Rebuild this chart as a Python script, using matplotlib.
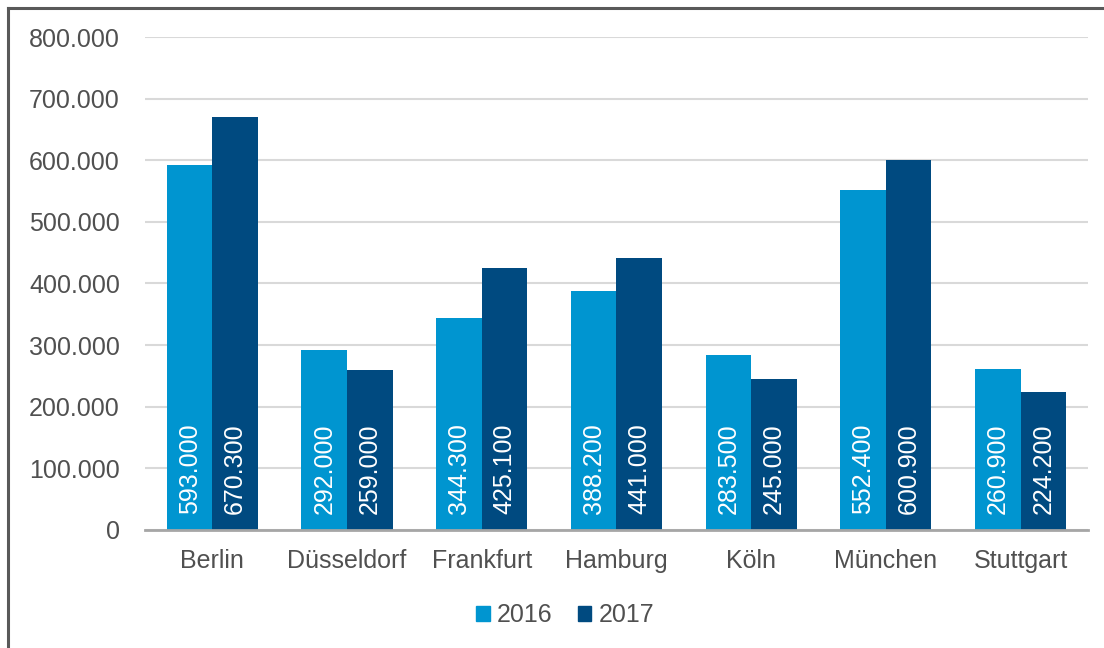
import matplotlib
matplotlib.use("Agg")
import matplotlib.pyplot as plt
import numpy as np
from matplotlib.lines import Line2D
from matplotlib.patches import Patch
from matplotlib.ticker import FuncFormatter

cities = ["Berlin", "Düsseldorf", "Frankfurt", "Hamburg", "Köln", "München", "Stuttgart"]
values_2016 = [593000, 292000, 344300, 388200, 283500, 552400, 260900]
values_2017 = [670300, 259000, 425100, 441000, 245000, 600900, 224200]
series_names = ["2016", "2017"]
yticks = [0, 100000, 200000, 300000, 400000, 500000, 600000, 700000, 800000]

c16 = "#0095D0"
c17 = "#004A80"
txt = "#505050"

plt.rcParams["font.family"] = ["Liberation Sans", "DejaVu Sans"]

def de_fmt(v):
    return f"{v:,.0f}".replace(",", ".")

fig = plt.figure(figsize=(11.04, 6.48), dpi=100)
ax = fig.add_axes([0.1313, 0.1821, 0.8542, 0.7608])

x = np.arange(len(cities))
w = 0.338
b1 = ax.bar(x - w/2, values_2016, w, color=c16, zorder=3)
b2 = ax.bar(x + w/2, values_2017, w, color=c17, zorder=3)

for bars, vals in ((b1, values_2016), (b2, values_2017)):
    for r, v in zip(bars, vals):
        ax.text(r.get_x() + r.get_width()/2, 26000, de_fmt(v), rotation=90,
                ha="center", va="bottom", color="white", fontsize=18, zorder=4)

ax.set_xlim(-0.5, len(cities) - 0.5)
ax.set_ylim(0, 800000)
ax.set_yticks(yticks)
ax.yaxis.set_major_formatter(FuncFormatter(lambda v, p: de_fmt(v)))
ax.set_xticks(x)
ax.set_xticklabels(cities)
ax.tick_params(axis="both", length=0, labelsize=18, labelcolor=txt)
ax.tick_params(axis="x", pad=14)
ax.tick_params(axis="y", pad=18)
ax.grid(axis="y", color="#D9D9D9", linewidth=1.5, zorder=0)
for s in ("top", "right", "left"):
    ax.spines[s].set_visible(False)
ax.spines["bottom"].set_color("#A6A6A6")
ax.spines["bottom"].set_linewidth(2)
ax.spines["bottom"].set_zorder(5)

handles = [Patch(color=c16, label=series_names[0]), Patch(color=c17, label=series_names[1])]
leg = fig.legend(handles=handles, loc="center", bbox_to_anchor=(0.512, 1 - 615/648), ncol=2,
                 frameon=False, fontsize=18, handlelength=0.55, handleheight=0.55,
                 handletextpad=0.3, columnspacing=1.0)
for t in leg.get_texts():
    t.set_color(txt)

fig.add_artist(Line2D([8/1104, 8/1104], [0, 1 - 8/648], transform=fig.transFigure, color="#595959", linewidth=2.2))
fig.add_artist(Line2D([8/1104, 1], [1 - 8/648, 1 - 8/648], transform=fig.transFigure, color="#595959", linewidth=2.2))

fig.savefig("out.png", dpi=100)
